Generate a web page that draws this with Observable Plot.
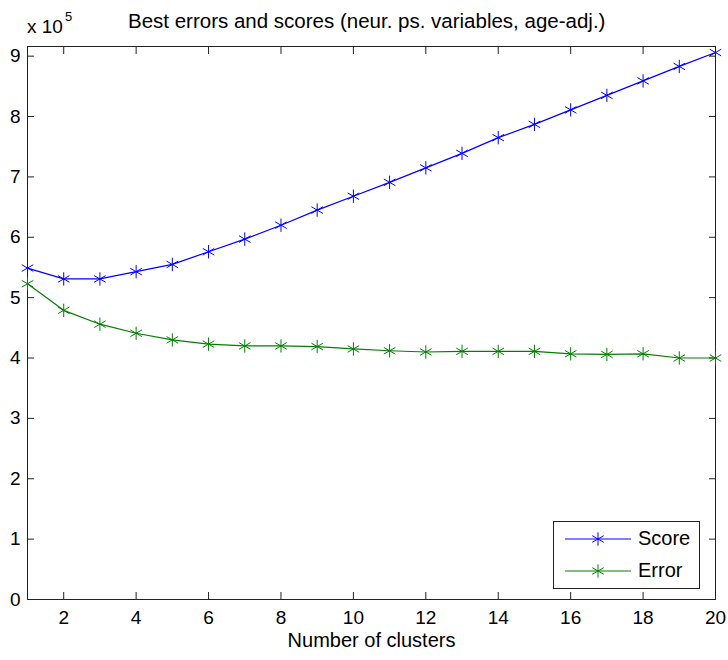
<!DOCTYPE html>
<html>
<head>
<meta charset="utf-8">
<script src="https://cdn.jsdelivr.net/npm/d3@7"></script>
<script src="https://cdn.jsdelivr.net/npm/@observablehq/plot@0.6"></script>
<style>
  html, body { margin: 0; padding: 0; background: #fff; }
  body { font-family: "Liberation Sans", Arial, sans-serif; color: #000; }
  #wrap { position: relative; width: 728px; height: 660px; }
  #header { position: relative; width: 728px; height: 40px; }
  #mult { position: absolute; left: 27px; top: 17px; font-size: 19px; line-height: 1; }
  #mult sup { position: absolute; left: 38px; top: -7px; font-size: 13px; }
  #title { position: absolute; left: 128px; top: 11px; font-size: 20.5px; line-height: 1; white-space: nowrap; }
  #legend { position: absolute; left: 553px; top: 521px; width: 145px; height: 66px; border: 1px solid #222; background: #fff; }
  #legend .row { position: absolute; left: 0; height: 24px; width: 145px; }
  #legend svg { position: absolute; left: 11px; top: 0; }
  #legend span { position: absolute; left: 84px; top: 1px; font-size: 20px; line-height: 1; }
</style>
</head>
<body>
<div id="wrap">
  <div id="header">
    <div id="mult">x 10<sup>5</sup></div>
    <div id="title">Best errors and scores (neur. ps. variables, age-adj.)</div>
  </div>
  <div id="chart"></div>
  <div id="legend"></div>
</div>
<script>
// ---- data (values in units of 10^5) ----
const clusters = [1, 2, 3, 4, 5, 6, 7, 8, 9, 10, 11, 12, 13, 14, 15, 16, 17, 18, 19, 20];
const score = [5.49, 5.31, 5.31, 5.43, 5.55, 5.76, 5.97, 6.20, 6.45, 6.68, 6.91, 7.15, 7.39, 7.65, 7.87, 8.11, 8.35, 8.59, 8.83, 9.06];
const error = [5.23, 4.79, 4.56, 4.41, 4.30, 4.23, 4.20, 4.20, 4.19, 4.15, 4.12, 4.10, 4.11, 4.11, 4.11, 4.07, 4.06, 4.07, 4.00, 4.00];
const seriesNames = ["Score", "Error"];
const seriesColors = ["#0000ff", "#008000"];
const xTicks = [2, 4, 6, 8, 10, 12, 14, 16, 18, 20];
const yTicks = [0, 1, 2, 3, 4, 5, 6, 7, 8, 9];
const xLabel = "Number of clusters";

const table = [];
clusters.forEach((c, i) => {
  table.push({clusters: c, value: score[i], series: seriesNames[0]});
});
clusters.forEach((c, i) => {
  table.push({clusters: c, value: error[i], series: seriesNames[1]});
});

const chart = Plot.plot({
  width: 728,
  height: 620,
  marginLeft: 27,
  marginRight: 13,
  marginTop: 6,
  marginBottom: 61,
  style: {fontFamily: "'Liberation Sans', Arial, sans-serif", fontSize: "19px", color: "#000", background: "#fff"},
  x: {domain: [1, 20], label: null},
  y: {domain: [0, 9.16], label: null},
  color: {domain: seriesNames, range: seriesColors},
  marks: [
    Plot.frame({stroke: "#222", strokeWidth: 1}),
    Plot.axisX({anchor: "bottom", ticks: xTicks, tickSize: 0, tickPadding: 11, label: null, fontSize: 19}),
    Plot.axisX({anchor: "bottom", ticks: xTicks, tickSize: -7, tickFormat: () => "", label: null, stroke: "#222"}),
    Plot.axisX({anchor: "top", ticks: xTicks, tickSize: -7, tickFormat: () => "", label: null, stroke: "#222"}),
    Plot.axisY({anchor: "left", ticks: yTicks, tickSize: 0, tickPadding: 7, tickFormat: d => String(d), label: null, fontSize: 19}),
    Plot.axisY({anchor: "left", ticks: yTicks, tickSize: -7, tickFormat: () => "", label: null, stroke: "#222"}),
    Plot.axisY({anchor: "right", ticks: yTicks, tickSize: -7, tickFormat: () => "", label: null, stroke: "#222"}),
    Plot.text([xLabel], {text: d => d, frameAnchor: "bottom", dy: 47, fontSize: 20, fill: "#000"}),
    Plot.line(table, {x: "clusters", y: "value", z: "series", stroke: "series", strokeWidth: 1.2}),
    Plot.dot(table, {x: "clusters", y: "value", stroke: "series", symbol: "asterisk", r: 6.3, strokeWidth: 1})
  ]
});
document.getElementById("chart").appendChild(chart);

// ---- legend ----
const legend = document.getElementById("legend");
const legendTops = [5, 37];
seriesNames.forEach((name, i) => {
  const row = document.createElement("div");
  row.className = "row";
  row.style.top = legendTops[i] + "px";
  const col = seriesColors[i];
  const sym = d3.symbol(d3.symbolAsterisk, Math.PI * 6.3 * 6.3)();
  row.innerHTML =
    `<svg width="70" height="24"><line x1="0" x2="66" y1="12" y2="12" stroke="${col}" stroke-width="1.2"/>` +
    `<path d="${sym}" transform="translate(33,12)" fill="none" stroke="${col}" stroke-width="1"/></svg>` +
    `<span>${name}</span>`;
  legend.appendChild(row);
});
</script>
</body>
</html>
